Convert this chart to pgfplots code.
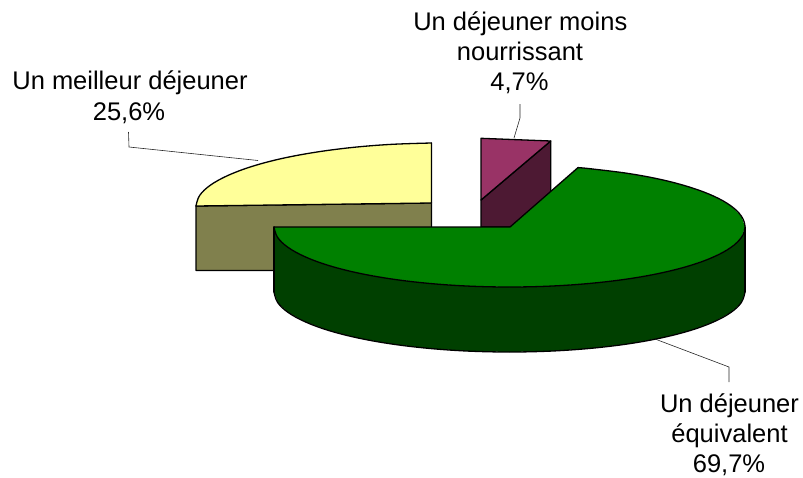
\documentclass[border=0pt]{standalone}
\usepackage{fontspec}
\setmainfont{Liberation Sans}
\usepackage{pgfplots}
\pgfplotsset{compat=1.18}
\definecolor{cyellow}{HTML}{FFFF99}
\definecolor{colive}{HTML}{80804D}
\definecolor{cplum}{HTML}{993366}
\definecolor{cplumd}{HTML}{4D1933}
\definecolor{cgreen}{HTML}{008000}
\definecolor{cgreend}{HTML}{004000}
\pgfplotsset{
  edge/.style={draw=black,line width=1.3pt,line join=round,line cap=round,mark=none},
  leader/.style={draw=black!85,line width=0.6pt,mark=none},
  flat/.style={draw=none,mark=none},
  arcline/.style={draw=black,line width=1.3pt,line cap=round,mark=none,smooth,tension=0.6},
}
\newcommand{\lab}[3]{\node[anchor=base,font=\fontsize{25.5}{30}\selectfont,inner sep=0pt] at (axis cs:#1,#2) {#3};}
\begin{document}
\begin{tikzpicture}
\begin{axis}[
  scale only axis,width=803pt,height=477pt,
  xmin=0,xmax=803,ymin=0,ymax=477,y dir=reverse,
  hide axis,clip=false,
]
\path (axis cs:0,0) rectangle (axis cs:803,477);
% olive wall
\addplot[edge,fill=colive] coordinates {(196,206) (431.5,203) (431.5,240) (300,270.5) (196,270.5)} --cycle;
% yellow top
\addplot[flat,fill=cyellow] coordinates {(431.5,143) (390.6,144.4) (351,147.6) (313.8,152.5) (280.1,158.9) (251.1,166.7) (227.6,175.6) (210.2,185.3) (199.6,195.5) (196,206) (431.5,203)} --cycle;
\addplot[arcline] coordinates {(431.5,143) (390.6,144.4) (351,147.6) (313.8,152.5) (280.1,158.9) (251.1,166.7) (227.6,175.6) (210.2,185.3) (199.6,195.5) (196,206)};
\addplot[edge] coordinates {(431.5,143) (431.5,203) (196,206)};
% plum
\addplot[edge,fill=cplumd] coordinates {(481,200) (550.7,141) (550.7,215) (510,227) (481,227)} --cycle;
\addplot[edge,fill=cplum] coordinates {(481,138.3) (550.7,141) (481,200)} --cycle;
% dark green wall
\addplot[flat,fill=cgreend] coordinates {(274,227) (277.6,237.4) (288.2,247.5) (305.6,257) (329.1,265.6) (358.1,273) (391.8,279) (429,283.4) (468.6,286.1) (509.5,287) (550.4,286.1) (590,283.4) (627.3,279) (660.9,273) (689.9,265.6) (713.4,257) (730.8,247.5) (741.4,237.4) (745,227) (745,292) (741.4,302.4) (730.8,312.5) (713.4,322) (689.9,330.6) (660.9,338) (627.3,344) (590,348.4) (550.4,351.1) (509.5,352) (468.6,351.1) (429,348.4) (391.8,344) (358.1,338) (329.1,330.6) (305.6,322) (288.2,312.5) (277.6,302.4) (274,292)} --cycle;
\addplot[arcline] coordinates {(274,292) (277.6,302.4) (288.2,312.5) (305.6,322) (329.1,330.6) (358.1,338) (391.8,344) (429,348.4) (468.6,351.1) (509.5,352) (550.4,351.1) (590,348.4) (627.3,344) (660.9,338) (689.9,330.6) (713.4,322) (730.8,312.5) (741.4,302.4) (745,292)};
\addplot[edge] coordinates {(274,227) (274,292)};
\addplot[edge] coordinates {(745,227) (745,292)};
% green top
\addplot[flat,fill=cgreen] coordinates {(510,227) (578,167.6) (590,168.7) (627.3,173.3) (660.9,179.5) (689.9,187.2) (713.4,196) (730.8,205.8) (741.4,216.2) (745,227) (741.4,237.4) (730.8,247.5) (713.4,257) (689.9,265.6) (660.9,273) (627.3,279) (590,283.4) (550.4,286.1) (509.5,287) (468.6,286.1) (429,283.4) (391.8,279) (358.1,273) (329.1,265.6) (305.6,257) (288.2,247.5) (277.6,237.4) (274,227)} --cycle;
\addplot[arcline] coordinates {(578,167.6) (590,168.7) (627.3,173.3) (660.9,179.5) (689.9,187.2) (713.4,196) (730.8,205.8) (741.4,216.2) (745,227) (741.4,237.4) (730.8,247.5) (713.4,257) (689.9,265.6) (660.9,273) (627.3,279) (590,283.4) (550.4,286.1) (509.5,287) (468.6,286.1) (429,283.4) (391.8,279) (358.1,273) (329.1,265.6) (305.6,257) (288.2,247.5) (277.6,237.4) (274,227)};
\addplot[edge] coordinates {(274,227) (510,227) (578,167.6)};
% leaders
\addplot[leader] coordinates {(128.5,132) (129,147) (258,160.5)};
\addplot[leader] coordinates {(520,104) (520,118) (514,138)};
\addplot[leader] coordinates {(655,339) (729,367) (729,382)};
% labels
\lab{130}{89.3}{Un meilleur déjeuner}
\lab{129}{120.7}{25,6\%}
\lab{520.3}{30}{Un déjeuner moins}
\lab{520}{60}{nourrissant}
\lab{519.5}{90.7}{4,7\%}
\lab{729.5}{412.3}{Un déjeuner}
\lab{729.5}{442.5}{équivalent}
\lab{729}{472.7}{69,7\%}
\end{axis}
\end{tikzpicture}
\end{document}
